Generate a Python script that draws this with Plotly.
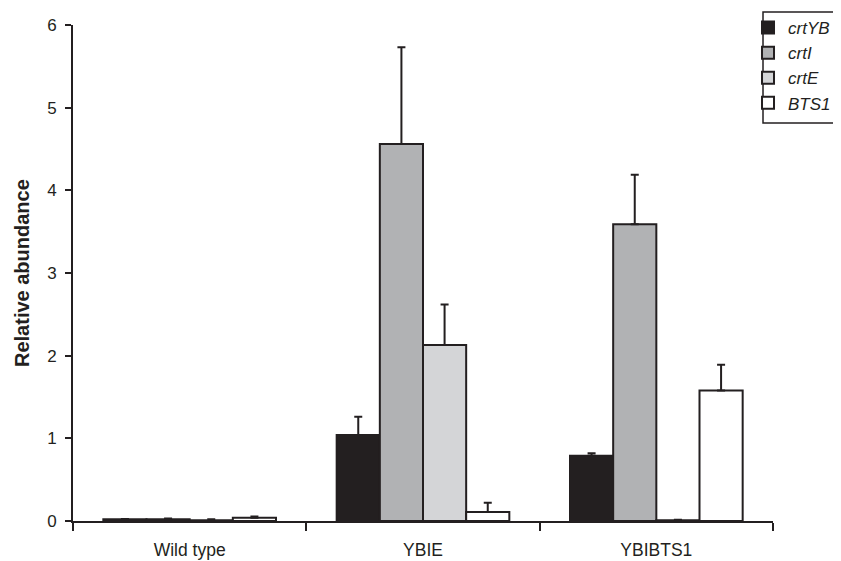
import plotly.graph_objects as go

categories = ["Wild type", "YBIE", "YBIBTS1"]
series_names = ["crtYB", "crtI", "crtE", "BTS1"]
crtYB = [0.02, 1.04, 0.79]
crtYB_err = [0.005, 0.22, 0.03]
crtI = [0.02, 4.56, 3.59]
crtI_err = [0.01, 1.17, 0.60]
crtE = [0.01, 2.13, 0.01]
crtE_err = [0.01, 0.49, 0.005]
BTS1 = [0.04, 0.11, 1.58]
BTS1_err = [0.015, 0.11, 0.31]
y_ticks = [0, 1, 2, 3, 4, 5, 6]
y_title = "Relative abundance"

values = [crtYB, crtI, crtE, BTS1]
errors = [crtYB_err, crtI_err, crtE_err, BTS1_err]
colors = ["#231f20", "#b1b2b4", "#d4d5d7", "#ffffff"]
ink = "#231f20"

fig = go.Figure()
for name, v, e, c in zip(series_names, values, errors, colors):
    fig.add_trace(go.Bar(
        x=categories, y=v, name="<i>" + name + "</i>",
        marker=dict(color=c, line=dict(color=ink, width=2)),
        error_y=dict(type="data", array=e, arrayminus=[0] * len(e), symmetric=False,
                     color=ink, thickness=2, width=4),
    ))

# page body has an 8px margin; lay out in figure coordinates
W, H = 841, 561
L, T = 64.7, 17
plot_right, plot_bottom = 765, 513.5
R, B = W - plot_right, H - plot_bottom
pw = plot_right - L
ph = plot_bottom - T


def px(fx):
    return (fx - L) / pw


def py(fy):
    return (plot_bottom - fy) / ph


fig.update_layout(
    width=W, height=H,
    margin=dict(l=L, r=R, t=T, b=B, pad=0, autoexpand=False),
    paper_bgcolor="white", plot_bgcolor="white",
    barmode="group", bargap=0.26, bargroupgap=0,
    font=dict(family="Liberation Sans, Arial, sans-serif", color=ink, size=17),
    showlegend=True,
    legend=dict(
        x=px(740), y=py(2), xanchor="left", yanchor="top",
        bgcolor="rgba(0,0,0,0)", borderwidth=0,
        font=dict(size=17, color=ink), traceorder="normal",
        tracegroupgap=3, itemwidth=30,
    ),
    shapes=[dict(
        type="rect", xref="paper", yref="paper",
        x0=px(755), x1=px(850), y0=py(115), y1=py(4),
        line=dict(color=ink, width=1.5), fillcolor="white", layer="above",
    )],
    annotations=[dict(
        text="<b>" + y_title + "</b>", xref="paper", yref="paper",
        x=px(13.7), y=0.5, xanchor="center", yanchor="middle", textangle=-90,
        showarrow=False, font=dict(size=20, color=ink),
    )],
    xaxis=dict(
        type="category", showline=True, linecolor=ink, linewidth=2,
        ticks="outside", tickson="boundaries", ticklen=8, tickwidth=2, tickcolor=ink,
        showgrid=False, zeroline=False, tickfont=dict(size=17.5),
        ticklabelstandoff=12, automargin=False,
    ),
    yaxis=dict(
        range=[0, 6], tickvals=y_ticks, showline=True, linecolor=ink, linewidth=2,
        ticks="outside", ticklen=6, tickwidth=2, tickcolor=ink,
        showgrid=False, zeroline=False, tickfont=dict(size=17), automargin=False,
        ticklabelstandoff=5,
    ),
)

fig.write_html("out.html")
